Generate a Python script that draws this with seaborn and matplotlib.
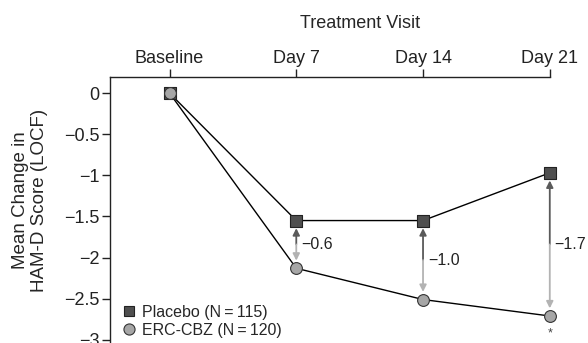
import matplotlib
matplotlib.use("Agg")
import matplotlib.pyplot as plt
from matplotlib.lines import Line2D
import numpy as np
import pandas as pd
import seaborn as sns

visits = ["Baseline", "Day 7", "Day 14", "Day 21"]
placebo = [0.0, -1.55, -1.55, -0.97]
erc_cbz = [0.0, -2.13, -2.51, -2.71]
diff_labels = ["\u22120.6", "\u22121.0", "\u22121.7"]
legend_labels = ["Placebo (N\u2009=\u2009115)", "ERC-CBZ (N\u2009=\u2009120)"]
yticks = [0, -0.5, -1, -1.5, -2, -2.5, -3]
ytick_labels = ["0", "\u22120.5", "\u22121", "\u22121.5", "\u22122", "\u22122.5", "\u22123"]

sns.set_theme(style="ticks")
plt.rcParams["font.family"] = ["Liberation Sans", "DejaVu Sans"]

pos = np.arange(len(visits))
df = pd.DataFrame({
    "pos": np.concatenate([pos, pos]),
    "score": placebo + erc_cbz,
    "group": ["Placebo"] * len(pos) + ["ERC-CBZ"] * len(pos),
})

fig = plt.figure(figsize=(5.88, 3.43), dpi=100)
ax = fig.add_axes([0.187, 0.002, 0.748, 0.7735])

dark = "#4f4f4f"
light = "#a6a6a6"
fs = 13

sns.lineplot(data=df, x="pos", y="score", units="group", estimator=None,
             color="black", lw=1.0, ax=ax, legend=False)
sns.scatterplot(data=df[df.group == "Placebo"], x="pos", y="score", marker="s",
                s=66, color=dark, edgecolor="#222222", linewidth=0.8,
                ax=ax, legend=False, clip_on=False, zorder=3)
sns.scatterplot(data=df[df.group == "ERC-CBZ"], x="pos", y="score", marker="o",
                s=72, color=light, edgecolor="#333333", linewidth=0.8,
                ax=ax, legend=False, clip_on=False, zorder=4)

# difference arrows
for i in range(1, len(visits)):
    mid = (placebo[i] + erc_cbz[i]) / 2
    ax.annotate("", xy=(pos[i], placebo[i]), xytext=(pos[i], mid),
                arrowprops=dict(arrowstyle="-|>", color="#5a5a5a", lw=1.3,
                                shrinkA=0, shrinkB=5.5, mutation_scale=10),
                zorder=2)
    ax.annotate("", xy=(pos[i], erc_cbz[i]), xytext=(pos[i], mid),
                arrowprops=dict(arrowstyle="-|>", color="#b3b3b3", lw=1.3,
                                shrinkA=0, shrinkB=5.5, mutation_scale=10),
                zorder=2)
    ax.annotate(diff_labels[i - 1], xy=(pos[i], mid), xytext=(3.5, 0),
                textcoords="offset points", ha="left", va="center",
                fontsize=11.5, color="#222222")

ax.annotate("*", xy=(pos[-1], erc_cbz[-1]), xytext=(0, -12.5),
            textcoords="offset points", ha="center", va="center",
            fontsize=9, color="#444444")

ax.set_xlim(-0.47, 3)
ax.set_ylim(-3.03, 0.195)
ax.set_xticks(pos)
ax.set_xticklabels(visits, fontsize=fs)
ax.set_yticks(yticks)
ax.set_yticklabels(ytick_labels, fontsize=fs)
ax.xaxis.tick_top()
ax.xaxis.set_label_position("top")
ax.set_xlabel("Treatment Visit", fontsize=fs)
ax.xaxis.set_label_coords(0.568, 1.186)
ax.set_ylabel("Mean Change in\nHAM-D Score (LOCF)", fontsize=13.5,
              linespacing=1.15)
ax.yaxis.set_label_coords(-0.141, 0.535)
ax.tick_params(axis="both", length=6, width=1.0, color="#222222", pad=1.5,
               labelcolor="#222222")
ax.tick_params(axis="x", pad=1.0)
for side in ["right", "bottom"]:
    ax.spines[side].set_visible(False)
for side in ["left", "top"]:
    ax.spines[side].set_linewidth(1.0)
    ax.spines[side].set_color("#222222")

handles = [
    Line2D([], [], marker="s", ls="none", markersize=7.5, markerfacecolor=dark,
           markeredgecolor="#222222", markeredgewidth=0.8),
    Line2D([], [], marker="o", ls="none", markersize=8, markerfacecolor=light,
           markeredgecolor="#333333", markeredgewidth=0.8),
]
ax.legend(handles, legend_labels, loc="lower left", frameon=False,
          fontsize=11.5, handletextpad=0.3, labelspacing=0.2,
          borderaxespad=0.0, handlelength=1.0, bbox_to_anchor=(0.01, -0.008))

fig.savefig("out.png", dpi=100)
